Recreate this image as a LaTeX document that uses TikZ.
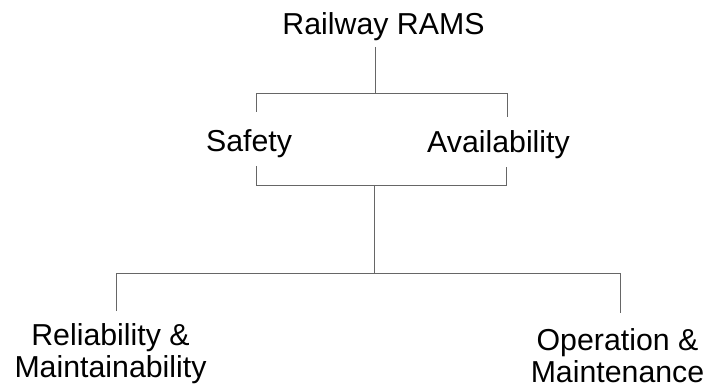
\documentclass[tikz,border=0pt]{standalone}
\usepackage{fontspec}
\setmainfont{Liberation Sans}
\begin{document}
\begin{tikzpicture}[x=1pt,y=-1pt,
  lbl/.style={inner sep=0pt,outer sep=0pt,anchor=base,align=center,
    font=\fontsize{30.3}{31.5}\selectfont,text=black},
  conn/.style={draw=black!60,line width=0.9pt}]
\useasboundingbox (0,0) rectangle (711,387);
\node[lbl] (r) at (383.5,35) {Railway RAMS};
\node[lbl] (s) at (249,152) {Safety};
\node[lbl] (a) at (498.5,153) {Availability};
\node[lbl] (rm) at (110.5,377) {Reliability \&\\Maintainability};
\node[lbl] (om) at (617.5,382) {Operation \&\\Maintenance};
% coordinates
\coordinate (rt) at (375,47);
\coordinate (rj) at (375,93);
\coordinate (bl1) at (256,93);
\coordinate (br1) at (507,93);
\coordinate (st) at (256,112);
\coordinate (at) at (507,117);
\coordinate (sb) at (256,166);
\coordinate (ab) at (506,167);
\coordinate (bl2) at (256,185);
\coordinate (br2) at (506,185);
\coordinate (mj) at (374,185);
\coordinate (mk) at (374,273);
\coordinate (lb) at (116,273);
\coordinate (rb) at (620,273);
\coordinate (rmt) at (116,311);
\coordinate (omt) at (620,313);
\draw[conn] (rt) -- (rj);
\draw[conn] (st) -- (bl1) -- (br1) -- (at);
\draw[conn] (sb) -- (bl2) -- (br2) -- (ab);
\draw[conn] (mj) -- (mk);
\draw[conn] (rmt) -- (lb) -- (rb) -- (omt);
\end{tikzpicture}
\end{document}
